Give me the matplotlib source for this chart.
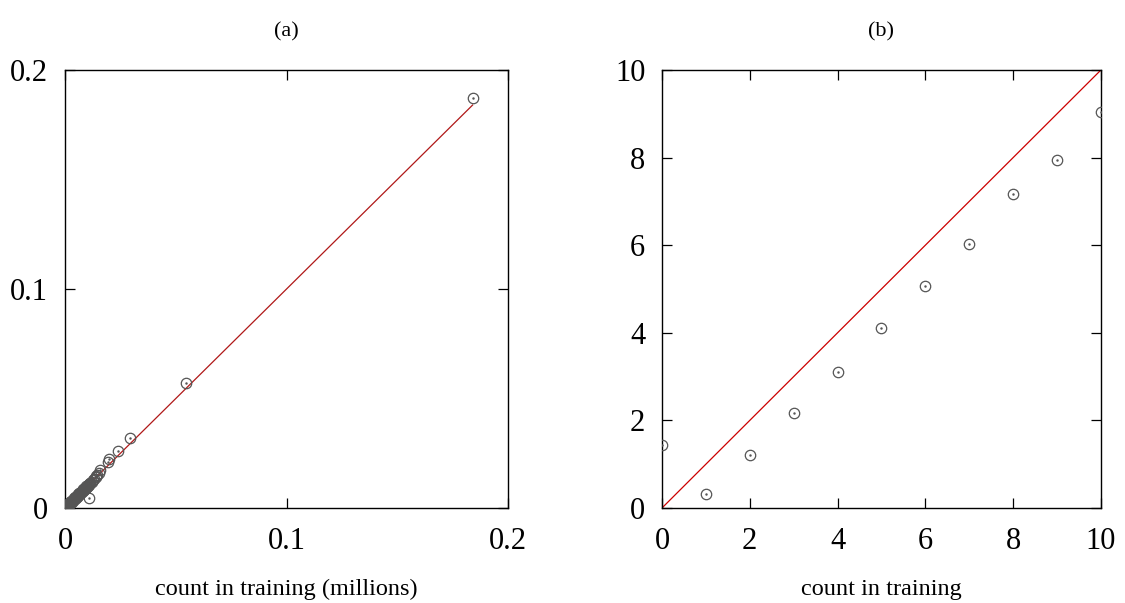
import matplotlib.pyplot as plt

plt.rcParams['font.family'] = ['Liberation Serif', 'DejaVu Serif']

# (a) counts in millions: training vs. other
train_a = [0.0001, 0.0002, 0.0003, 0.0004, 0.0005, 0.0006, 0.0007, 0.0008, 0.0009, 0.0010,
           0.0011, 0.0012, 0.0013, 0.0014, 0.0015, 0.0016, 0.0017, 0.0018, 0.0019, 0.0020,
           0.0022, 0.0024, 0.0026, 0.0028, 0.0030, 0.0032, 0.0034, 0.0036, 0.0038, 0.0040,
           0.0042, 0.0044, 0.0046, 0.0048, 0.0050, 0.0052, 0.0054, 0.0056, 0.0058, 0.0060,
           0.0063, 0.0066, 0.0069, 0.0072, 0.0075, 0.0078, 0.0081, 0.0084, 0.0087, 0.0090,
           0.0094, 0.0098, 0.0102, 0.0106, 0.0110, 0.0115, 0.0120, 0.0126, 0.0132, 0.0138,
           0.0145, 0.0152, 0.0160, 0.0110, 0.0195, 0.0200, 0.0240, 0.0295, 0.0545, 0.1840,
           0.0003, 0.0008, 0.0013, 0.0018, 0.0023, 0.0029, 0.0035, 0.0041, 0.0047, 0.0053,
           0.0059, 0.0065, 0.0071, 0.0077, 0.0083, 0.0089, 0.0096, 0.0104, 0.0112, 0.0142]
other_a = [0.0000, 0.0001, 0.0002, 0.0003, 0.0004, 0.0005, 0.0006, 0.0007, 0.0008, 0.0009,
           0.0010, 0.0011, 0.0012, 0.0013, 0.0014, 0.0015, 0.0016, 0.0017, 0.0018, 0.0019,
           0.0021, 0.0023, 0.0025, 0.0027, 0.0029, 0.0031, 0.0033, 0.0035, 0.0037, 0.0039,
           0.0041, 0.0043, 0.0045, 0.0047, 0.0049, 0.0051, 0.0053, 0.0055, 0.0057, 0.0059,
           0.0062, 0.0065, 0.0068, 0.0071, 0.0074, 0.0077, 0.0080, 0.0083, 0.0086, 0.0089,
           0.0093, 0.0097, 0.0101, 0.0105, 0.0109, 0.0115, 0.0121, 0.0128, 0.0134, 0.0140,
           0.0150, 0.0160, 0.0175, 0.0046, 0.0210, 0.0225, 0.0260, 0.0320, 0.0570, 0.1870,
           0.0006, 0.0011, 0.0016, 0.0021, 0.0026, 0.0032, 0.0038, 0.0044, 0.0050, 0.0056,
           0.0062, 0.0068, 0.0074, 0.0080, 0.0086, 0.0092, 0.0099, 0.0107, 0.0115, 0.0148]

# (b) small counts
train_b = [0, 1, 2, 3, 4, 5, 6, 7, 8, 9, 10]
other_b = [1.44, 0.33, 1.21, 2.16, 3.10, 4.12, 5.06, 6.03, 7.18, 7.94, 9.03]

fig = plt.figure(figsize=(11.25, 6.03), dpi=100)
ax1 = fig.add_axes([0.0578, 0.1575, 0.3938, 0.7264])
ax2 = fig.add_axes([0.5884, 0.1575, 0.3902, 0.7264])

mk = '#555555'
for ax, x, y in [(ax1, train_a, other_a), (ax2, train_b, other_b)]:
    ax.plot(x, y, 'o', ms=7.5, mfc='none', mec=mk, mew=0.9, zorder=3)
    ax.plot(x, y, '.', ms=1.5, color=mk, zorder=3)
    ax.tick_params(direction='in', top=True, right=True, length=7, width=0.9,
                   labelsize=22)
    for s in ax.spines.values():
        s.set_linewidth(1.0)

# y = x reference line up to the largest count
ax1.plot([0, max(train_a)], [0, max(train_a)], color='#b01818', lw=0.9, zorder=2)
ax1.set_xlim(0, 0.2)
ax1.set_ylim(0, 0.2)
ax1.set_xticks([0, 0.1, 0.2])
ax1.set_xticklabels(['0', '0.1', '0.2'])
ax1.set_yticks([0, 0.1, 0.2])
ax1.set_yticklabels(['0', '0.1', '0.2'])
ax1.tick_params(axis='x', pad=14)
ax1.tick_params(axis='y', pad=12)
ax1.set_xlabel('count in training (millions)', fontsize=17.5, labelpad=16)
ax1.set_title('(a)', fontsize=16, pad=24)

ax2.plot([0, 10], [0, 10], color='#cc0000', lw=0.9, zorder=2)
ax2.set_xlim(0, 10)
ax2.set_ylim(0, 10)
ax2.set_xticks(range(0, 11, 2))
ax2.set_yticks(range(0, 11, 2))
ax2.tick_params(axis='x', pad=14)
ax2.tick_params(axis='y', pad=12)
ax2.set_xlabel('count in training', fontsize=17.5, labelpad=16)
ax2.set_title('(b)', fontsize=16, pad=24)

fig.savefig('out.png', dpi=100)
